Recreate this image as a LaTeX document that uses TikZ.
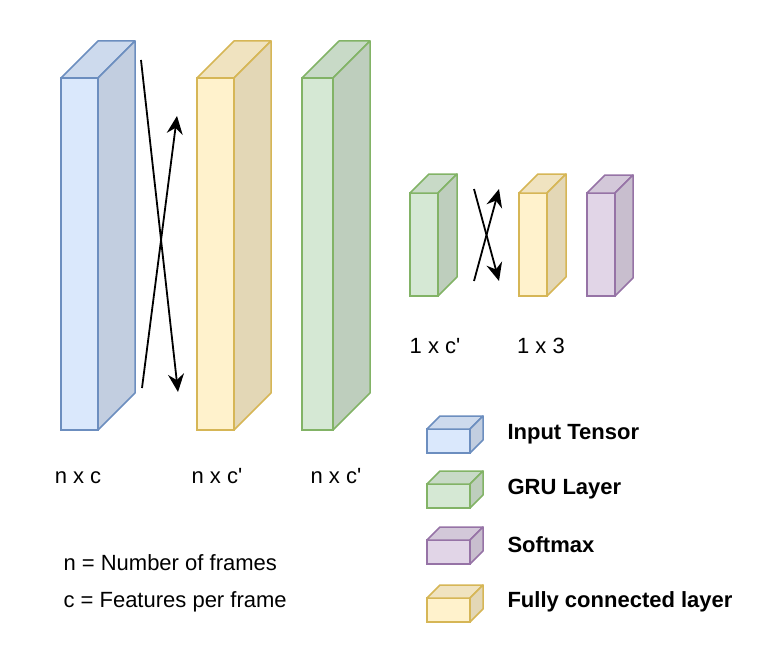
\documentclass[tikz,border=0pt]{standalone}
\usepackage{fontspec}
\setmainfont{Liberation Sans}
\usetikzlibrary{arrows.meta}

\definecolor{bluefill}{HTML}{DAE8FC}
\definecolor{blueline}{HTML}{6C8EBF}
\definecolor{yellowfill}{HTML}{FFF2CC}
\definecolor{yellowline}{HTML}{D6B656}
\definecolor{greenfill}{HTML}{D5E8D4}
\definecolor{greenline}{HTML}{82B366}
\definecolor{purplefill}{HTML}{E1D5E7}
\definecolor{purpleline}{HTML}{9673A6}

\newcommand{\prm}{\XeTeXglyph\the\XeTeXcharglyph"0027\relax}

\tikzset{
  face/.style={rectangle, inner sep=0pt, outer sep=0pt, line width=1.5pt},
  face edge/.style={line width=1.5pt, line join=round},
  dimlabel/.style={anchor=base, font=\fontsize{22}{26}\selectfont},
  notetext/.style={anchor=base west, font=\fontsize{22}{26}\selectfont},
  legtext/.style={anchor=base west, font=\fontsize{22}{26}\selectfont\bfseries},
  flow/.style={-{Stealth[length=18pt,width=16pt,inset=6pt]}, line width=1.8pt},
}

% name, left, top, width, height, depth, colour
\newcommand{\tensorbox}[7]{%
  \node[face, fill=#7fill, draw=#7line, minimum width=#4pt, minimum height=#5pt, anchor=north west] (#1) at (#2,#3) {};
  \draw[face edge, draw=#7line, fill=#7fill!94!black] (#1.north west) -- ++(#6,-#6) -- ++(#4,0) -- (#1.north east) -- cycle;
  \draw[face edge, draw=#7line, fill=#7fill!89!black] (#1.north east) -- ++(#6,-#6) -- ++(0,#5) -- (#1.south east) -- cycle;
}

\begin{document}
\begin{tikzpicture}[x=1pt, y=-1pt]
  \useasboundingbox (0,0) rectangle (760,650);

  % big layers
  \tensorbox{input}{61}{78}{37}{352}{37}{blue}
  \tensorbox{fcone}{197}{78}{37}{352}{37}{yellow}
  \tensorbox{gruone}{302}{78}{31}{352}{37}{green}

  % small layers
  \tensorbox{grutwo}{410}{193}{28}{103}{19}{green}
  \tensorbox{fctwo}{519}{193}{28}{103}{19}{yellow}
  \tensorbox{softmax}{587}{193}{28}{103}{18}{purple}

  % crossing arrows
  \coordinate (bigdownstart) at (141,60);
  \coordinate (bigdownend) at (178,392);
  \coordinate (bigupstart) at (142,388);
  \coordinate (bigupend) at (177,116);
  \coordinate (smalldownstart) at (474,189);
  \coordinate (smalldownend) at (499,281);
  \coordinate (smallupstart) at (474,281);
  \coordinate (smallupend) at (499,189);

  \draw[flow] (bigdownstart) -- (bigdownend);
  \draw[flow] (bigupstart) -- (bigupend);
  \draw[flow] (smalldownstart) -- (smalldownend);
  \draw[flow] (smallupstart) -- (smallupend);

  % dimensions
  \node[dimlabel] (diminput) at (78,483) {n x c};
  \node[dimlabel] (dimfcone) at (217,483) {n x c\prm};
  \node[dimlabel] (dimgruone) at (336,483) {n x c\prm};
  \node[dimlabel] (dimgrutwo) at (435,353) {1 x c\prm};
  \node[dimlabel] (dimfctwo) at (541,353) {1 x 3};

  % notes
  \node[notetext] (noten) at (60,570) {n = Number of frames};
  \node[notetext] (notec) at (60,607) {c = Features per frame};

  % legend
  \tensorbox{leginput}{427}{429}{43}{24}{13}{blue}
  \tensorbox{leggru}{427}{484}{43}{24}{13}{green}
  \tensorbox{legsoftmax}{427}{540}{43}{24}{13}{purple}
  \tensorbox{legfc}{427}{598}{43}{24}{13}{yellow}
  \node[legtext] (leginputtext) at (504,439) {Input Tensor};
  \node[legtext] (leggrutext) at (504,494) {GRU Layer};
  \node[legtext] (legsoftmaxtext) at (504,552) {Softmax};
  \node[legtext] (legfctext) at (504,607) {Fully connected layer};
\end{tikzpicture}
\end{document}
